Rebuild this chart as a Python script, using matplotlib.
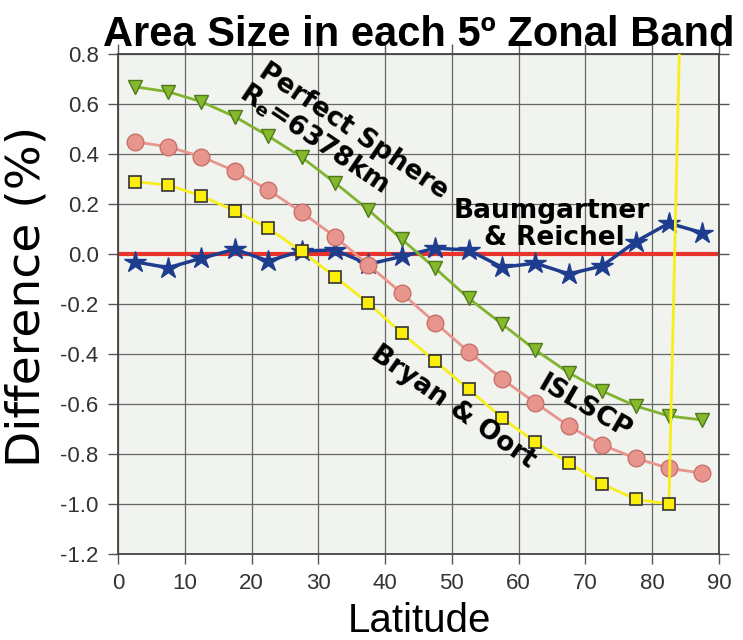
import matplotlib
matplotlib.use("Agg")
import matplotlib.pyplot as plt
import numpy as np

plt.rcParams['axes.unicode_minus'] = False

# zonal band centres
lat = [2.5, 7.5, 12.5, 17.5, 22.5, 27.5, 32.5, 37.5, 42.5,
       47.5, 52.5, 57.5, 62.5, 67.5, 72.5, 77.5, 82.5, 87.5]

sphere = [0.669, 0.649, 0.609, 0.549, 0.472, 0.387, 0.285, 0.176, 0.059,
          -0.057, -0.177, -0.280, -0.384, -0.475, -0.548, -0.608, -0.648, -0.664]
islscp = [0.449, 0.429, 0.389, 0.332, 0.256, 0.167, 0.069, -0.044, -0.157,
          -0.275, -0.391, -0.500, -0.595, -0.688, -0.764, -0.817, -0.857, -0.877]
bryan = [0.289, 0.276, 0.232, 0.173, 0.103, 0.010, -0.091, -0.197, -0.317,
         -0.428, -0.541, -0.655, -0.753, -0.835, -0.920, -0.981, -1.000, 4.8]
baum = [-0.031, -0.055, -0.017, 0.019, -0.028, 0.012, 0.016, -0.041, -0.010,
        0.023, 0.016, -0.053, -0.037, -0.080, -0.048, 0.049, 0.123, 0.085]

xticks = np.arange(0, 91, 10)
yticks = np.round(np.arange(-1.2, 0.81, 0.2), 1)

fig = plt.figure(figsize=(7.43, 6.4), dpi=100)
ax = fig.add_axes([0.1588, 0.1344, 0.8089, 0.78125])
ax.set_facecolor('#f1f3ee')

ax.axhline(0, color='#e8342c', lw=3, zorder=2)

ax.plot(lat, baum, color='#1f3d8e', lw=2.5, marker='*', ms=16,
        mfc='#1f3d8e', mec='#1f3d8e', zorder=3)
ax.plot(lat, sphere, color='#80b32e', lw=2, marker='v', ms=10,
        mfc='#86b82c', mec='#4e7a1c', zorder=4)
ax.plot(lat, islscp, color='#e8958e', lw=2, marker='o', ms=12,
        mfc='#e8958e', mec='#c8716b', zorder=4)
ax.plot(lat, bryan, color='#f8ee1c', lw=2, zorder=5)
ax.plot(lat[:-1], bryan[:-1], ls='none', marker='s', ms=9,
        mfc='#fbee0a', mec='#333333', mew=1.2, zorder=6)

ax.set_xlim(0, 90)
ax.set_ylim(-1.2, 0.8)
ax.set_xticks(xticks)
ax.set_yticks(yticks)
ax.set_xticklabels([str(v) for v in xticks], fontfamily='Liberation Sans', fontsize=16)
ax.set_yticklabels(['%.1f' % (v + 0.0) for v in yticks], fontfamily='Liberation Sans', fontsize=16)
ax.tick_params(direction='out', length=7, width=1, color='#555555',
               labelcolor='#333333', top=True, right=True, pad=7)
ax.grid(True, color='#666666', lw=0.9)
ax.set_axisbelow(True)
for s in ax.spines.values():
    s.set_color('#444444')
    s.set_linewidth(1.3)

lab = dict(fontsize=19, fontweight='bold', ha='center', va='center',
           rotation_mode='anchor', color='black')
ax.text(35.2, 0.492, 'Perfect Sphere', rotation=-34, zorder=7, **lab)
ax.text(29.4, 0.46, r'R$_\mathbf{e}$=6378km', rotation=-34, zorder=7, **lab)
ax.text(50.2, -0.612, 'Bryan & Oort', rotation=-35, zorder=7, **lab)
ax.text(69.9, -0.616, 'ISLSCP', rotation=-30, zorder=7, **lab)
ax.text(65.0, 0.144, 'Baumgartner', fontsize=19, fontweight='bold',
        ha='center', va='baseline', zorder=7)
ax.text(65.3, 0.036, '& Reichel', fontsize=19, fontweight='bold',
        ha='center', va='baseline', zorder=7)

fig.text(0.563, 0.928, 'Area Size in each 5º Zonal Band', fontsize=30,
         fontweight='bold', fontfamily='Liberation Sans', ha='center', va='baseline')
fig.text(0.565, 0.012, 'Latitude', fontsize=29, fontfamily='Liberation Sans',
         ha='center', va='baseline')
fig.text(0.036, 0.537, 'Difference (%)', fontsize=34, rotation=90,
         ha='center', va='center')

fig.savefig('out.png', dpi=100)
